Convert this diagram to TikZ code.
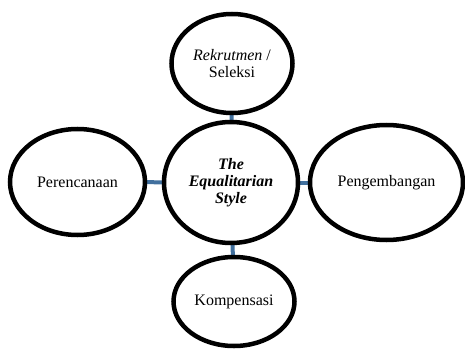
\documentclass[tikz,border=0pt]{standalone}
\usepackage{fontspec}
\setmainfont{Liberation Serif}
\usetikzlibrary{shapes.geometric,backgrounds}
\definecolor{linkblue}{RGB}{65,112,158}
\tikzset{
  bubble/.style={draw,ellipse,line width=4.5pt,fill=white,inner sep=0pt,align=center,font=\fontsize{16}{17}\selectfont},
  link/.style={linkblue,line width=4pt}
}
\begin{document}
\begin{tikzpicture}[x=1pt,y=-1pt]
        \useasboundingbox (0,0) rectangle (465,350);
        \node[bubble,minimum width=134pt,minimum height=121pt] (style) at (231,182.5) {\bfseries\itshape The\\ \bfseries\itshape Equalitarian\\ \bfseries\itshape Style};
        \node[bubble,minimum width=121pt,minimum height=99pt] (rekrut) at (232,63.5) {\itshape Rekrutmen \upshape /\\ Seleksi};
        \node[bubble,minimum width=121pt,minimum height=89pt] (kompen) at (234,301.5) {Kompensasi};
        \node[bubble,minimum width=135pt,minimum height=106pt] (rencana) at (77.5,182) {Perencanaan};
        \node[bubble,minimum width=153pt,minimum height=115pt] (kembang) at (386.5,182.5) {Pengembangan};
        \begin{scope}[on background layer]
        \draw[link] (rekrut.center) -- (style.center);
        \draw[link] (style.center) -- (kompen.center);
        \draw[link] (rencana.center) -- (style.center);
        \draw[link] (style.center) -- (kembang.center);
        \end{scope}
    \end{tikzpicture}
\end{document}
